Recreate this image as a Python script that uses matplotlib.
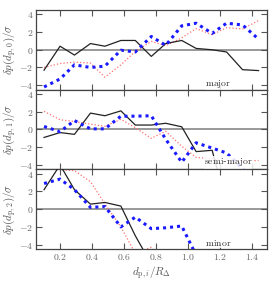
import numpy as np
import matplotlib
matplotlib.use('Agg')
import matplotlib.pyplot as plt

# radial bins shared by all three panels
d_bins = [0.10, 0.20, 0.29, 0.39, 0.48, 0.58, 0.67, 0.77, 0.86, 0.96, 1.05, 1.15, 1.24, 1.34, 1.44]

# major axis
major_black = [-2.3, 0.4, -0.6, 0.7, 0.4, 1.05, 1.05, -0.75, 0.7, 1.05, 0.15, 0.0, -0.25, -2.25, -2.35]
major_red = [-2.0, -1.55, -1.4, -1.5, -3.1, -1.7, -0.2, 0.95, 0.45, 1.35, 2.4, 1.7, 2.5, 2.35, 3.3]
major_blue = [-4.2, -3.3, -1.7, -2.0, -1.85, -0.05, -0.25, 1.5, 0.5, 2.7, 3.0, 1.85, 3.0, 2.8, 1.2]

# semi-major axis
semi_black = [-0.9, -0.35, -0.55, 1.85, 1.55, 2.1, 0.5, 0.5, 0.7, 0.3, -2.5, -2.35, -8.5]
semi_red = [2.05, 1.1, 0.9, 0.6, 0.35, 1.15, 0.2, -1.0, -0.2, -1.9, -3.15, -3.3, -3.7, -3.55, -3.5]
semi_blue = [0.34, -0.25, 1.0, 0.07, 0.07, 1.5, 1.5, 1.55, -1.1, -3.7, -1.5, -2.1, -2.65, -4.4, -6.0]

# minor axis
minor_black = [2.2, 5.0, 2.2, 0.57, 0.76, 0.35, -3.0, -6.2]
minor_red = [6.0, 4.45, 4.35, 3.1, 0.6, -2.0, -5.0, -4.3, -6.5]
minor_blue = [2.9, 3.4, 2.2, 0.2, 0.3, -2.0, -0.9, -2.2, -2.1, -1.9, -5.2]

panels = [
    (major_black, major_red, major_blue, r'$\delta p(d_{\rm p,0})/\sigma$', 'major', 1.19, -3.85),
    (semi_black, semi_red, semi_blue, r'$\delta p(d_{\rm p,1})/\sigma$', 'semi-major', 1.25, -3.7),
    (minor_black, minor_red, minor_blue, r'$\delta p(d_{\rm p,2})/\sigma$', 'minor', 1.19, -3.8),
]

plt.rcParams['mathtext.fontset'] = 'cm'
plt.rcParams['font.family'] = 'serif'
plt.rcParams['font.serif'] = ['DejaVu Serif']

fig, axes = plt.subplots(3, 1, figsize=(2.69, 2.83), dpi=100, sharex=True)
fig.subplots_adjust(left=0.134, right=0.991, top=0.965, bottom=0.12, hspace=0)

for ax, (blk, red, blu, ylab, name, tx, ty) in zip(axes, panels):
    ax.axhline(0, color='#888888', lw=1.2, zorder=1)
    ax.plot(d_bins[:len(blk)], blk, color='#222222', lw=0.9, zorder=3)
    ax.plot(d_bins[:len(red)], red, color='#ff7070', lw=0.9, ls=':', zorder=2)
    ax.plot(d_bins[:len(blu)], blu, color='#1a1aff', lw=2.2, ls=(0, (1, 1.3)), zorder=4)
    # label in CM roman, hyphen kept as a real hyphen
    label = '-'.join(r'$\mathrm{%s}$' % w for w in name.split('-'))
    ax.text(tx, ty, label, fontsize=7, ha='center', va='center', color='#333333', zorder=5,
            bbox=dict(facecolor='white', edgecolor='none', pad=0.3, alpha=0.85))
    ax.set_xlim(0.05, 1.49)
    ax.set_ylim(-4.5, 4.5)
    ax.set_yticks([-4, -2, 0, 2, 4])
    ax.set_yticklabels([r'$-4$', r'$-2$', r'$0$', r'$2$', r'$4$'])
    ax.set_ylabel(ylab, fontsize=8, color='#555555', labelpad=1)
    ax.tick_params(direction='in', top=True, right=True, labelsize=7, colors='#555555',
                   length=4, width=0.8, pad=2)
    ax.tick_params(labelcolor='#666666')
    for s in ax.spines.values():
        s.set_color('#444444')
        s.set_linewidth(0.9)

axes[-1].set_xticks([0.2, 0.4, 0.6, 0.8, 1.0, 1.2, 1.4])
axes[-1].set_xticklabels([r'$0.2$', r'$0.4$', r'$0.6$', r'$0.8$', r'$1.0$', r'$1.2$', r'$1.4$'])
axes[-1].set_xlabel(r'$d_{\rm p,\it i}/R_\Delta$', fontsize=8, color='#555555', labelpad=2)

fig.savefig('out.png', dpi=100)
